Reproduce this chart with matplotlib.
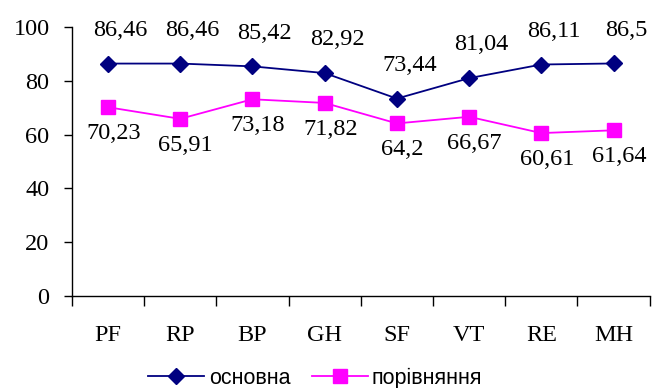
import matplotlib.pyplot as plt
import numpy as np

categories = ['PF', 'RP', 'BP', 'GH', 'SF', 'VT', 'RE', 'MH']
osnovna = [86.46, 86.46, 85.42, 82.92, 73.44, 81.04, 86.11, 86.5]
porivn = [70.23, 65.91, 73.18, 71.82, 64.2, 66.67, 60.61, 61.64]
y_ticks = [0, 20, 40, 60, 80, 100]

FS = 17.5


def fmt(v):
    return ('%g' % v).replace('.', ',')


def main():
    plt.rcParams['font.family'] = ['Liberation Serif', 'DejaVu Serif']
    fig = plt.figure(figsize=(6.53, 3.88), dpi=100)
    ax = fig.add_axes([0.110, 0.237, 0.885, 0.693])

    x = np.arange(len(categories)) + 0.5
    ax.plot(x, osnovna, color='#000080', marker='D', markersize=8.5,
            linewidth=1.3, label='основна')
    ax.plot(x, porivn, color='#FF00FF', marker='s', markersize=9.5,
            linewidth=1.3, label='порівняння')

    for xi, v in zip(x, osnovna):
        ax.annotate(fmt(v), (xi, v), xytext=(9, 24), textcoords='offset points',
                    ha='center', va='center', fontsize=FS)
    for xi, v in zip(x, porivn):
        ax.annotate(fmt(v), (xi, v), xytext=(4, -19), textcoords='offset points',
                    ha='center', va='center', fontsize=FS)

    ax.set_xlim(0, len(categories))
    ax.set_ylim(0, 100)
    ax.set_yticks(y_ticks)
    ax.tick_params(axis='y', direction='out', length=6, width=1, pad=10,
                   labelsize=FS)

    # boundary ticks between categories, labels at the centres
    ax.set_xticks(np.arange(len(categories) + 1))
    ax.set_xticklabels([])
    ax.set_xticks(x, minor=True)
    ax.set_xticklabels(categories, minor=True)
    ax.tick_params(axis='x', which='major', direction='out', length=7, width=1)
    ax.tick_params(axis='x', which='minor', length=0, pad=21, labelsize=FS)

    for s in ['top', 'right']:
        ax.spines[s].set_visible(False)
    for s in ['left', 'bottom']:
        ax.spines[s].set_linewidth(1)

    fig.legend(loc='center', bbox_to_anchor=(0.483, 0.025), ncol=2, frameon=False,
               prop={'family': 'Liberation Sans', 'size': 15.5},
               handlelength=2.6, handletextpad=0.2,
               columnspacing=1.0, borderpad=0)

    fig.savefig('out.png', dpi=100)


if __name__ == "__main__":
    main()
